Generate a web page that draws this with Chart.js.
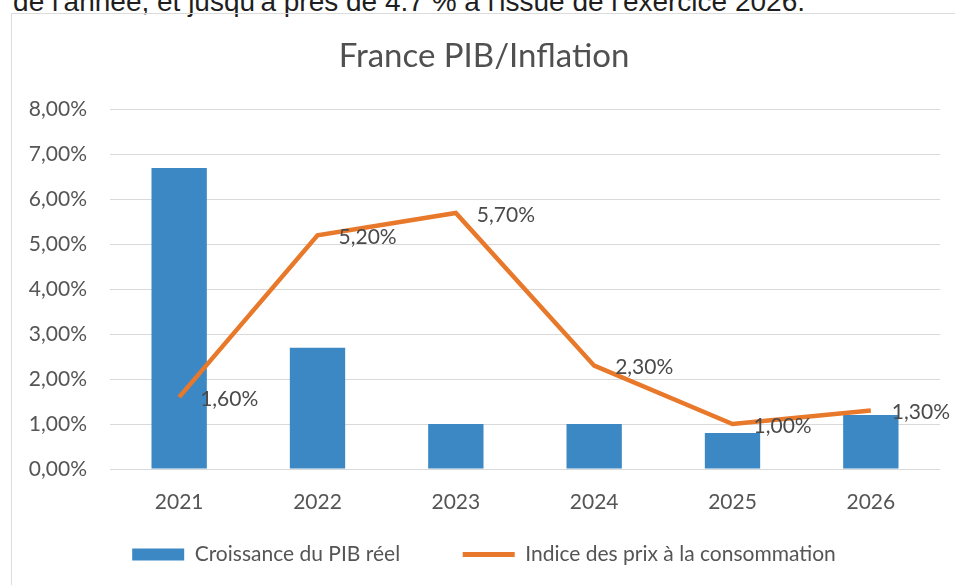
<!DOCTYPE html>
<html lang="fr">
<head>
<meta charset="utf-8">
<script src="https://cdn.jsdelivr.net/npm/chart.js@4/dist/chart.umd.min.js"></script>
<style>
  html, body { margin: 0; padding: 0; background: #fff; width: 955px; height: 585px; overflow: hidden; }
  #topText { position: absolute; right: 150px; top: -12px; white-space: nowrap;
    font-family: "Liberation Sans", Arial, sans-serif; font-size: 28px; line-height: 28px; color: #1e1e1e; }
  #frame { position: absolute; left: 11px; top: 13px; width: 1000px; height: 700px;
    border-top: 1px solid #dcdcdc; border-left: 1px solid #dcdcdc; }
  #wrap { position: absolute; left: 0; top: 0; width: 955px; height: 585px; }
</style>
</head>
<body>
<div id="topText">de l'année, et jusqu'à près de 4.7 % à l'issue de l'exercice 2026.</div>
<div id="frame"></div>
<div id="wrap"><canvas id="c" width="955" height="585"></canvas></div>
<script>
const categories = ['2021', '2022', '2023', '2024', '2025', '2026'];
const pibValues = [6.7, 2.7, 1.0, 1.0, 0.8, 1.2];
const inflationValues = [1.6, 5.2, 5.7, 2.3, 1.0, 1.3];
const inflationLabels = ['1,60%', '5,20%', '5,70%', '2,30%', '1,00%', '1,30%'];
const yTickLabels = ['0,00%', '1,00%', '2,00%', '3,00%', '4,00%', '5,00%', '6,00%', '7,00%', '8,00%'];
const seriesNames = ['Croissance du PIB réel', 'Indice des prix à la consommation'];
const titleText = 'France PIB/Inflation';

const FONT = 'Lato, "Open Sans", sans-serif';
const BLUE = '#3b88c4';
const ORANGE = '#e8782a';
const TEXT = '#555555';

const lineLabelPlugin = {
  id: 'lineLabels',
  afterDatasetsDraw(chart) {
    const meta = chart.getDatasetMeta(1);
    const ctx = chart.ctx;
    ctx.save();
    ctx.font = '21px ' + FONT;
    ctx.fillStyle = '#4a4a4a';
    ctx.textAlign = 'left';
    ctx.textBaseline = 'middle';
    meta.data.forEach((pt, i) => {
      ctx.fillText(inflationLabels[i], pt.x + 21, pt.y + 2);
    });
    ctx.restore();
  }
};

new Chart(document.getElementById('c'), {
  data: {
    labels: categories,
    datasets: [
      {
        type: 'bar',
        label: seriesNames[0],
        data: pibValues,
        backgroundColor: BLUE,
        borderWidth: 0,
        barPercentage: 0.4,
        categoryPercentage: 1.0,
        order: 2
      },
      {
        type: 'line',
        label: seriesNames[1],
        data: inflationValues,
        borderColor: ORANGE,
        backgroundColor: ORANGE,
        borderWidth: 4.5,
        pointRadius: 0,
        pointHoverRadius: 0,
        tension: 0,
        order: 1
      }
    ]
  },
  options: {
    responsive: false,
    animation: false,
    events: [],
    layout: { padding: { left: 28, right: 15, top: 0, bottom: 10 } },
    plugins: {
      title: {
        display: true,
        text: titleText,
        color: '#505050',
        font: { family: FONT, size: 33, weight: 'normal' },
        padding: { top: 37, bottom: 33 }
      },
      legend: {
        position: 'bottom',
        labels: {
          color: TEXT,
          font: { family: FONT, size: 21 },
          usePointStyle: true,
          pointStyleWidth: 52,
          boxHeight: 12,
          padding: 25,
          generateLabels(chart) {
            return chart.data.datasets.map((ds, i) => ({
              text: i === 0 ? ds.label + '\u00a0\u00a0\u00a0\u00a0\u00a0\u00a0\u00a0' : ds.label,
              fillStyle: i === 0 ? BLUE : ORANGE,
              strokeStyle: i === 0 ? BLUE : ORANGE,
              lineWidth: i === 0 ? 0 : 5,
              pointStyle: i === 0 ? 'rect' : 'line',
              fontColor: TEXT,
              hidden: false,
              datasetIndex: i
            }));
          }
        }
      },
      tooltip: { enabled: false }
    },
    scales: {
      x: {
        offset: true,
        grid: { display: false, drawTicks: false },
        border: { display: false },
        ticks: { color: TEXT, font: { family: FONT, size: 21 }, padding: 21 },
        afterFit(scale) { scale.height = 50; }
      },
      y: {
        min: 0,
        max: 8,
        grid: { color: '#d9d9d9', lineWidth: 1, drawTicks: false },
        border: { display: false },
        ticks: {
          stepSize: 1,
          color: TEXT,
          font: { family: FONT, size: 21 },
          padding: 23,
          callback: (v, i) => yTickLabels[i]
        },
        afterFit(scale) { scale.width = 82; }
      }
    }
  },
  plugins: [lineLabelPlugin]
});
</script>
</body>
</html>
